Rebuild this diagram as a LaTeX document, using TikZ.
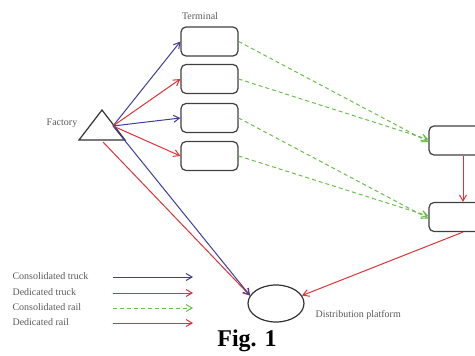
\documentclass[tikz,border=0pt]{standalone}
\usepackage{fontspec}
\setmainfont{Liberation Serif}
\definecolor{Navy}{rgb}{0.25,0.24,0.6}
\definecolor{LineRed}{rgb}{0.86,0.2,0.22}
\definecolor{RailGreen}{rgb}{0.42,0.75,0.3}
\definecolor{LabelGray}{rgb}{0.35,0.35,0.35}
\usetikzlibrary{arrows.meta, shapes.geometric, positioning}

\begin{document}
\begin{tikzpicture}[x=1pt, y=-1pt,
    every node/.style={font=\fontsize{10}{12}\selectfont, text=LabelGray},
    box/.style={draw=black!75, line width=1.2pt, rounded corners=5pt, minimum width=57pt, minimum height=29pt, inner sep=0pt},
    ctruck/.style={Navy, line width=1pt, -{Straight Barb[length=6pt, width=7pt]}},
    dtruck/.style={LineRed, line width=1pt, -{Straight Barb[length=6pt, width=7pt]}},
    crail/.style={RailGreen, line width=1pt, dash pattern=on 4pt off 3pt, -{Straight Barb[length=6pt, width=7pt]}},
    drail/.style={LineRed, line width=1pt, -{Straight Barb[length=6pt, width=7pt]}}]
  \useasboundingbox (0,0) rectangle (475,356);
  % \draw (0,0) rectangle (475,356);

  % factory
  \draw[black!80, line width=1.2pt] (79,140) -- (102,110) -- (125,140) -- cycle;
  \coordinate (fout) at (113,126);
  \coordinate (fbase) at (103,142);
  \node (factory) at (62,123) {Factory};

  % terminals
  \node (term) at (200,16) {Terminal};
  \node[box] (t1) at (209.5,41.5) {};
  \node[box] (t2) at (209.5,79) {};
  \node[box] (t3) at (209.5,118) {};
  \node[box] (t4) at (209.5,156) {};

  % rail stations, cut off at the right edge
  \node[box, minimum width=68pt] (ra) at (463,140.5) {};
  \node[box, minimum width=68pt] (rb) at (463,217) {};

  % distribution platform
  \node[draw=black!80, line width=1.2pt, ellipse, minimum width=56pt, minimum height=37pt, inner sep=0pt] (plat) at (276,303.5) {};
  \node[anchor=west] (platlab) at (312,315) {Distribution platform};

  \draw[ctruck] (fout) -- (t1.west);
  \draw[dtruck] (fout) -- (t2.west);
  \draw[ctruck] (fout) -- (t3.west);
  \draw[dtruck] (fout) -- (t4.west);
  \draw[dtruck] (fbase) -- (plat.163);
  \draw[ctruck] (fout) -- (plat.163);

  \draw[crail] (t1.east) -- ([yshift=-1.5pt]ra.west);
  \draw[crail] (t2.east) -- ([yshift=1pt]ra.west);
  \draw[crail] (t3.east) -- ([yshift=-1.5pt]rb.west);
  \draw[crail] (t4.east) -- ([yshift=1pt]rb.west);
  \draw[drail] (ra.south) -- (rb.north);
  \draw[drail] (rb.south) -- (plat.17);

  % legend
  \foreach \i/\txt/\sty/\y in {1/Consolidated truck/ctruck/276, 2/Dedicated truck/dtruck/292,
                               3/Consolidated rail/crail/307, 4/Dedicated rail/drail/322} {
    \node[anchor=west] (leg\i) at (9,\y) {\txt};
    \coordinate (legs\i) at (113,\y+1);
    \coordinate (lege\i) at (193,\y+1);
    \draw[\sty] (legs\i) -- (lege\i);
  }

  \node[text=black, font=\fontsize{24}{26}\selectfont\bfseries] (fig) at (247,341) {Fig. 1};
\end{tikzpicture}
\end{document}
